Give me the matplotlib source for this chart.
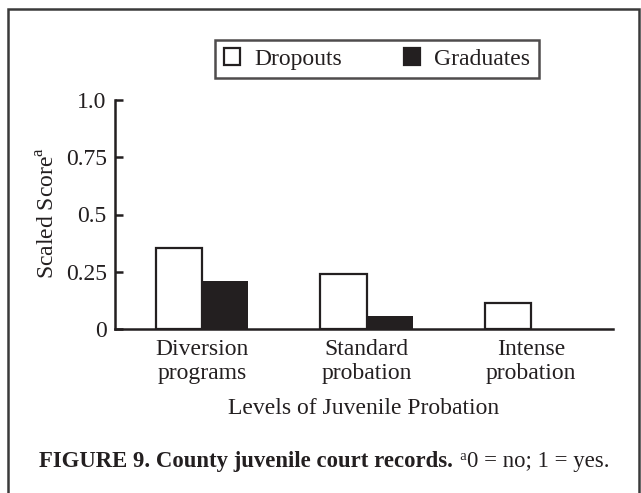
import numpy as np
import matplotlib
matplotlib.use('Agg')
import matplotlib.pyplot as plt
from matplotlib.patches import Rectangle, Patch

# Data
categories = ['Diversion\nprograms', 'Standard\nprobation', 'Intense\nprobation']
dropouts = [0.355, 0.24, 0.115]
graduates = [0.21, 0.055, 0.0]
yticks = [0, 0.25, 0.5, 0.75, 1.0]
ytick_labels = ['0', '0.25', '0.5', '0.75', '1.0']

ink = '#231f20'
plt.rcParams['font.family'] = ['Liberation Serif', 'DejaVu Serif']
plt.rcParams['mathtext.fontset'] = 'custom'
plt.rcParams['mathtext.rm'] = 'Liberation Serif'

fig = plt.figure(figsize=(6.41, 4.93), dpi=100)
ax = fig.add_axes([115 / 641, 1 - 329 / 493, 498 / 641, 229 / 493])

x = np.arange(len(categories))
w = 0.28
ax.bar(x - w / 2, dropouts, w, color='white', edgecolor=ink, linewidth=1.6, label='Dropouts')
ax.bar(x + w / 2, graduates, w, color=ink, linewidth=0, label='Graduates')

ax.set_xlim(-0.529, 2.498)
ax.set_ylim(0, 1.0)
ax.set_yticks(yticks)
ax.set_yticklabels(ytick_labels)
ax.set_xticks(x)
ax.set_xticklabels(categories)
ax.tick_params(axis='y', direction='in', length=6, width=1.8, color=ink,
               labelsize=17, labelcolor=ink, pad=6)
ax.tick_params(axis='x', length=0, labelsize=17, labelcolor=ink, pad=7)
for s in ['top', 'right']:
    ax.spines[s].set_visible(False)
for s in ['left', 'bottom']:
    ax.spines[s].set_linewidth(1.8)
    ax.spines[s].set_color(ink)

ax.set_xlabel('Levels of Juvenile Probation', fontsize=17, color=ink, labelpad=10)
fig.text(49 / 641, 1 - 213 / 493, r'Scaled Score$^{\mathrm{a}}$', rotation=90,
         fontsize=17, color=ink, ha='center', va='center')

handles = [Patch(facecolor='white', edgecolor=ink, linewidth=1.6, label='Dropouts'),
           Patch(facecolor=ink, edgecolor=ink, linewidth=1.6, label='Graduates')]
leg = fig.legend(handles=handles, loc='center', bbox_to_anchor=(377 / 641, 1 - 59 / 493),
                 ncol=2, fontsize=17, frameon=True, fancybox=False, handlelength=0.7,
                 handleheight=0.7, handletextpad=0.6, columnspacing=2.6,
                 borderpad=0.35, borderaxespad=0, labelcolor=ink)
leg.get_frame().set_edgecolor(ink)
leg.get_frame().set_linewidth(1.8)

# outer frame
fig.patches.append(Rectangle((8 / 641, -0.05), 631 / 641, 1.05 - 9 / 493,
                             transform=fig.transFigure, fill=False,
                             edgecolor='#3a3a3a', linewidth=1.8))

# caption
t1 = fig.text(39 / 641, 1 - 462 / 493, 'FIGURE 9. County juvenile court records.',
              fontsize=16.4, fontweight='bold', color=ink, va='center')
t2 = fig.text(0, 0, '  a', fontsize=10.5, color=ink, va='center')
t3 = fig.text(0, 0, '0 = no; 1 = yes.', fontsize=16.4, color=ink, va='center')
fig.canvas.draw()
r = fig.canvas.get_renderer()
bb = t1.get_window_extent(r)
inv = fig.transFigure.inverted()
x1 = inv.transform((bb.x1, 0))[0]
t2.set_position((x1, 1 - 456 / 493))
bb2 = t2.get_window_extent(r)
t3.set_position((inv.transform((bb2.x1, 0))[0], 1 - 462 / 493))

fig.savefig('out.png', dpi=100)
